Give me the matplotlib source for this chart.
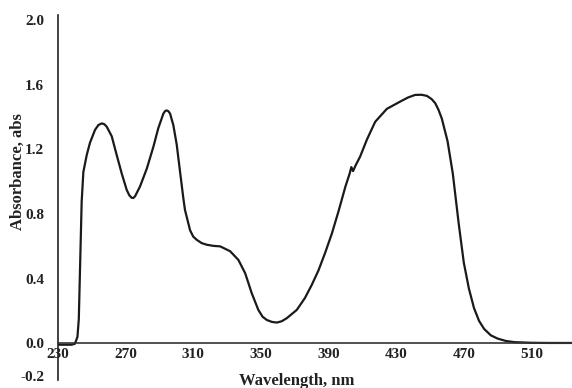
import matplotlib
matplotlib.use("Agg")
import matplotlib.pyplot as plt

wavelength = [230, 238, 240, 241.5, 242.3, 244, 245, 247, 248.9, 251.9, 253.9, 255.9, 257.4, 258.8, 261.8,
              264.7, 267.7, 270.6, 272.2, 273.6, 274.6, 275.6, 278.5, 282.5, 286.4, 289.3, 292.3,
              293.4, 294.3, 295.3, 296.3, 298.2, 300.2, 302.2, 304.1, 305.1, 308.1, 310, 312.1, 315, 318,
              322, 325.9, 331.8, 336.7, 340.7, 344.6, 348.5, 351, 353.5, 356.5, 359.4, 362.3, 365.3, 371.2,
              376, 380, 384, 388, 392, 396, 400, 402.5, 403.5, 404.5, 406, 408.7, 412.7, 417.6,
              424.5, 432.4, 437, 441.2, 445, 448.2, 451, 453.1, 455, 457, 460.4, 463.5, 467, 470, 473,
              476, 479, 482, 486, 490, 495, 500, 510, 520, 535]
absorbance = [-0.008, -0.008, -0.002, 0.04, 0.15, 0.877, 1.06, 1.165, 1.24, 1.32, 1.35, 1.36, 1.355, 1.34, 1.28,
              1.165, 1.05, 0.95, 0.915, 0.90, 0.899, 0.91, 0.97, 1.08, 1.215, 1.33, 1.42,
              1.437, 1.44, 1.435, 1.42, 1.35, 1.23, 1.06, 0.90, 0.825, 0.70, 0.66, 0.64, 0.62, 0.61,
              0.603, 0.60, 0.57, 0.516, 0.434, 0.31, 0.207, 0.165, 0.145, 0.133, 0.129, 0.137, 0.156, 0.207,
              0.28, 0.36, 0.45, 0.56, 0.68, 0.82, 0.97, 1.05, 1.09, 1.065, 1.10, 1.155, 1.26, 1.37,
              1.45, 1.495, 1.52, 1.536, 1.537, 1.53, 1.51, 1.485, 1.445, 1.39, 1.25, 1.05, 0.74, 0.50, 0.34,
              0.22, 0.14, 0.09, 0.05, 0.03, 0.015, 0.008, 0.004, 0.003, 0.003]

xticks = [230, 270, 310, 350, 390, 430, 470, 510]
yticks = [-0.2, 0.0, 0.4, 0.8, 1.2, 1.6, 2.0]
ytick_labels = ["-0.2", "0.0", "0.4", "0.8", "1.2", "1.6", "2.0"]

plt.rcParams['font.family'] = ['Liberation Serif', 'DejaVu Serif']
plt.rcParams['font.weight'] = 'bold'

fig = plt.figure(figsize=(5.72, 3.88), dpi=100)
ax = fig.add_axes([58/572, 1-380/388, 1-58/572, (380-15)/388])
ax.plot(wavelength, absorbance, color='#1a1a1a', lw=1.6, solid_joinstyle='round')
ax.set_xlim(230, 534)
ax.set_ylim(-0.226, 2.03)

ax.spines['top'].set_visible(False)
ax.spines['right'].set_visible(False)
ax.spines['bottom'].set_position(('data', 0))
ax.spines['bottom'].set_color('#333333')
ax.spines['left'].set_color('#222222')
ax.spines['left'].set_linewidth(1.2)
ax.spines['bottom'].set_linewidth(1.2)

ax.set_xticks(xticks)
ax.set_xticklabels([str(t) for t in xticks], fontsize=11, fontweight='bold', color='#222222')
ax.set_yticks(yticks)
ax.set_yticklabels(ytick_labels, fontsize=11, fontweight='bold', color='#222222')
ax.tick_params(axis='both', length=0)
ax.tick_params(axis='y', pad=10)
ax.tick_params(axis='x', pad=3)

fig.text(297/572, 1-381/388, "Wavelength, nm", ha='center', va='center',
         fontsize=12, fontweight='bold', color='#222222')
fig.text(18/572, 1-172/388, "Absorbance, abs", ha='center', va='center', rotation=90,
         fontsize=12, fontweight='bold', color='#222222')

fig.savefig("out.png", dpi=100)
